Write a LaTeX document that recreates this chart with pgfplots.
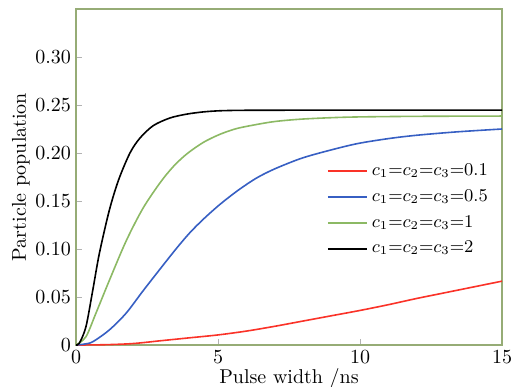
\documentclass[border=0pt]{standalone}
\usepackage{pgfplots}
\pgfplotsset{compat=1.18}
\definecolor{frame}{RGB}{150,172,118}
\definecolor{cred}{RGB}{250,50,40}
\definecolor{cblue}{RGB}{55,95,195}
\definecolor{cgreen}{RGB}{140,185,100}
\begin{document}
\begin{tikzpicture}
\begin{axis}[
  scale only axis, width=213pt, height=168pt,
  at={(0,0)}, anchor=south west,
  xmin=0, xmax=15, ymin=0, ymax=0.35,
  axis line style={frame, line width=0.8pt},
  tick style={gray!60, line width=0.4pt},
  major tick length=3pt,
  tick align=inside,
  xtick={0,5,10,15},
  ytick={0,0.05,0.10,0.15,0.20,0.25,0.30},
  yticklabels={0,0.05,0.10,0.15,0.20,0.25,0.30},
  xtick pos=bottom, ytick pos=left,
  xticklabel style={anchor=base, inner sep=1pt, yshift=-9pt},
  yticklabel style={xshift=1pt},
  xlabel={Pulse width /ns},
  ylabel={Particle population},
  xlabel style={at={(axis description cs:0.5,0)}, anchor=base, inner sep=1pt, yshift=-19pt},
  ylabel style={yshift=-4pt},
  legend style={at={(0.583,0.558)}, anchor=north west, draw=none, fill=none,
    font=\small, inner sep=1pt, row sep=1.6pt},
  legend cell align=left,
  legend image code/.code={\draw[line width=1pt,#1] (0pt,0pt) -- (19.6pt,0pt);},
]
\addlegendimage{color=cred}
\addlegendentry{$c_1{=}c_2{=}c_3{=}0.1$}
\addlegendimage{color=cblue}
\addlegendentry{$c_1{=}c_2{=}c_3{=}0.5$}
\addlegendimage{color=cgreen}
\addlegendentry{$c_1{=}c_2{=}c_3{=}1$}
\addlegendimage{color=black}
\addlegendentry{$c_1{=}c_2{=}c_3{=}2$}
\addplot[cred, line width=0.8pt, smooth, forget plot] coordinates {
(0,0) (1,0.0003) (2,0.0015) (3,0.0045) (4,0.0075) (5,0.0105) (6,0.0145) (7,0.0195)
(8,0.025) (9,0.0305) (10,0.036) (11,0.042) (12,0.0485) (13,0.0545) (14,0.0605) (15,0.0665)};
\addplot[cblue, line width=0.8pt, smooth, forget plot] coordinates {
(0,0) (0.3,0.001) (0.59,0.0034) (1.17,0.0156) (1.76,0.033) (2.35,0.056) (2.93,0.078)
(3.52,0.100) (4.01,0.117) (4.5,0.1315) (5.07,0.1465) (5.7,0.161) (6.36,0.1740) (7,0.1835)
(7.89,0.194) (8.7,0.201) (9.86,0.2095) (11,0.215) (12,0.2185) (13.4,0.222) (15,0.225)};
\addplot[cgreen, line width=0.8pt, smooth, forget plot] coordinates {
(0,0) (0.35,0.0086) (0.70,0.033) (1.17,0.067) (1.76,0.108) (2.35,0.142) (2.96,0.169)
(3.43,0.186) (3.90,0.199) (4.48,0.211) (5.07,0.2195) (5.66,0.2255) (6.36,0.2297)
(7,0.2328) (7.89,0.2352) (9,0.2368) (10,0.2376) (12,0.2382) (15,0.2385)};
\addplot[black, line width=0.8pt, smooth, forget plot] coordinates {
(0,0) (0.12,0.002) (0.35,0.019) (0.59,0.057) (0.82,0.095) (1.17,0.140) (1.50,0.172)
(1.90,0.200) (2.25,0.2155) (2.72,0.2285) (3.31,0.2365) (3.90,0.2405) (4.48,0.2428)
(5.07,0.2440) (6,0.2445) (8,0.2446) (15,0.2447)};
\end{axis}
\pgfresetboundingbox
\useasboundingbox (-38pt,-20.5pt) rectangle (218pt,172.5pt);
\end{tikzpicture}
\end{document}
